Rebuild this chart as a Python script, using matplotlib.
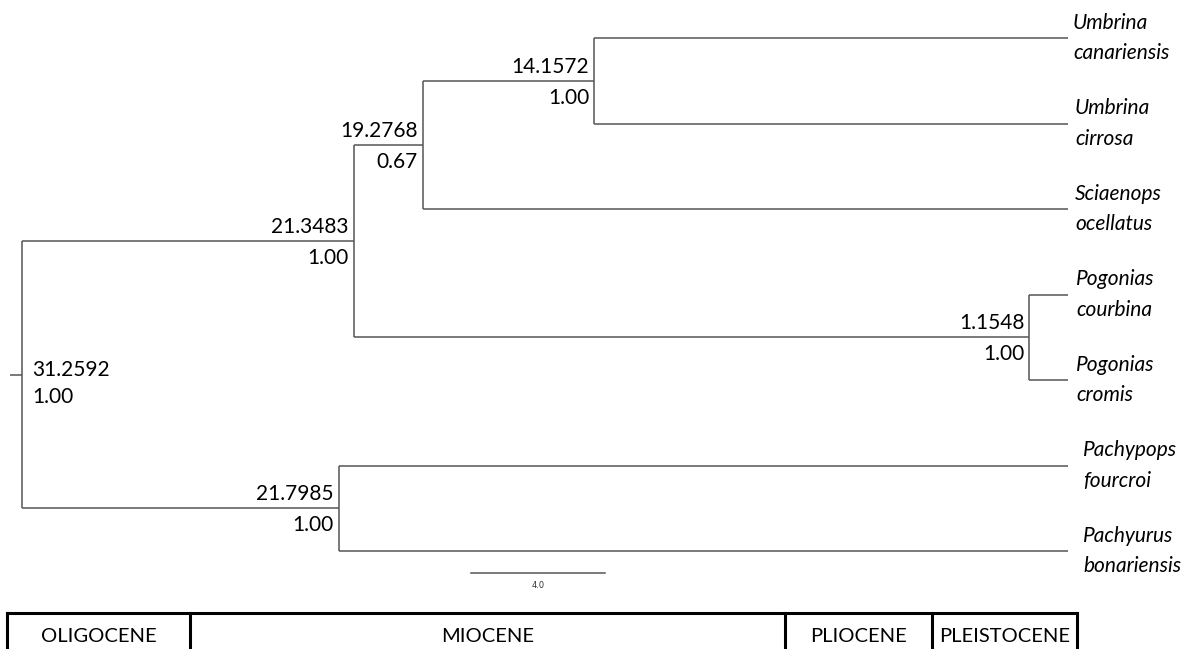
import matplotlib
matplotlib.use("Agg")
import matplotlib.pyplot as plt
from matplotlib.lines import Line2D

# tips, top to bottom
tip_names = ["Umbrina\ncanariensis", "Umbrina\ncirrosa", "Sciaenops\nocellatus",
             "Pogonias\ncourbina", "Pogonias\ncromis",
             "Pachypops\nfourcroi", "Pachyurus\nbonariensis"]

# internal nodes: name, age (Ma), posterior support, children
node_names = ["root", "A", "B", "C", "D", "E"]
node_ages = [31.2592, 21.3483, 19.2768, 14.1572, 1.1548, 21.7985]
node_support = ["1.00", "1.00", "0.67", "1.00", "1.00", "1.00"]
node_children = [["A", "E"], ["B", "D"], ["C", 2], [0, 1], [3, 4], [5, 6]]

scale_len = 4.0
epochs = ["OLIGOCENE", "MIOCENE", "PLIOCENE", "PLEISTOCENE"]

W, H = 1197, 649
fig = plt.figure(figsize=(W / 100, H / 100), dpi=100)
ax = fig.add_axes([0, 0, 1, 1])
ax.axis("off")

# pixel layout: root at x=22, tips at x=1068; tips spaced 85.5 px from y=38
root_px, tip_px = 22, 1068
k = (tip_px - root_px) / node_ages[0]
ax.set_xlim(node_ages[0] + root_px / k, -(W - tip_px) / k)
ax.set_ylim(H, 0)

def tip_y(i):
    return 38 + 85.5 * i

age = dict(zip(node_names, node_ages))
sup = dict(zip(node_names, node_support))
kids = dict(zip(node_names, node_children))

branch = dict(color="#555555", lw=1.1, solid_capstyle="butt")
ypos = {}

def layout(n):
    if isinstance(n, int):
        return tip_y(n)
    ys = [layout(c) for c in kids[n]]
    ypos[n] = sum(ys) / len(ys)
    x = age[n]
    ax.plot([x, x], [ys[0], ys[-1]], **branch)
    for c, yc in zip(kids[n], ys):
        xc = 0 if isinstance(c, int) else age[c]
        ax.plot([x, xc], [yc, yc], **branch)
    return ypos[n]

layout("root")

font = "Lato"
fs = 15
px = 1 / k
# root stub and labels
ax.plot([age["root"] + 12 * px, age["root"]], [ypos["root"], ypos["root"]], **branch)
ax.text(age["root"] - 10 * px, ypos["root"] - 5, f"{age['root']:.4f}", ha="left", va="center",
        fontsize=fs, family=font)
ax.text(age["root"] - 10 * px, ypos["root"] + 22, sup["root"], ha="left", va="center",
        fontsize=fs, family=font)

for n in node_names[1:]:
    x = age[n] + 5 * px
    ax.text(x, ypos[n] - 14, f"{age[n]:.4f}", ha="right", va="center", fontsize=fs, family=font)
    ax.text(x, ypos[n] + 17, sup[n], ha="right", va="center", fontsize=fs, family=font)

tip_offsets = [5, 7, 7, 8, 8, 15, 15]
for i, name in enumerate(tip_names):
    ax.text(-tip_offsets[i] * px, tip_y(i), name, ha="left", va="center", fontsize=fs,
            family=font, style="italic", linespacing=1.65)

# scale bar
sb_left = age["root"] - (471 - root_px) * px
ax.plot([sb_left, sb_left - scale_len], [573, 573], color="#555555", lw=1.1)
ax.text(sb_left - scale_len / 2, 586, f"{scale_len:.1f}", ha="center", va="center",
        fontsize=6, family="DejaVu Sans", color="#333333")

# epoch bar (drawn in figure pixels)
edges = [7, 190, 785, 932, 1077]
top = 613
fig.add_artist(Line2D([edges[0] / W, edges[-1] / W], [1 - top / H] * 2, color="black", lw=2.2))
for e in edges:
    fig.add_artist(Line2D([e / W, e / W], [1 - top / H, 0], color="black", lw=2.2))
for name, l, r in zip(epochs, edges[:-1], edges[1:]):
    fig.text((l + r) / 2 / W, 1 - 636 / H, name, ha="center", va="center", fontsize=14.5, family=font)

fig.savefig("out.png", dpi=100)
